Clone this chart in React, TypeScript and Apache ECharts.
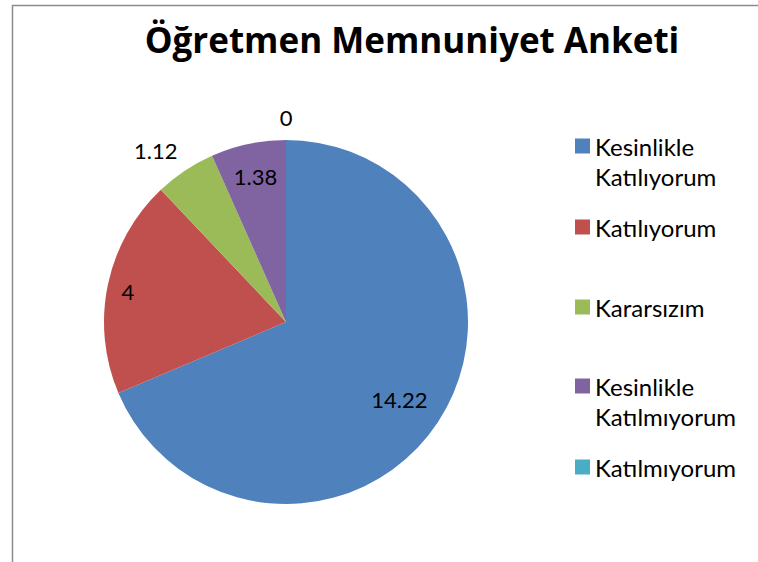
import React, { useEffect, useRef } from "react";
import * as echarts from "echarts";

const categories = [
  "Kesinlikle Katılıyorum",
  "Katılıyorum",
  "Kararsızım",
  "Kesinlikle Katılmıyorum",
  "Katılmıyorum",
];
const values = [14.22, 4, 1.12, 1.38, 0];
const colors = ["#4F81BD", "#C0504D", "#9BBB59", "#8064A2", "#4BACC6"];
const titleText = "Öğretmen Memnuniyet Anketi";

// label offsets (px) from the pie's default inside label position
const labelOffsets: [number, number][] = [
  [35, 26],
  [-66, -11],
  [-78, -93],
  [-11, -54],
  [0, -111],
];
// vertical centre of each legend key (px)
const legendKeyY = [146, 227, 307, 386, 467];

const FONT = "Lato";
const LINE = 30;

export default function App() {
  const ref = useRef<HTMLDivElement>(null);
  useEffect(() => {
    if (!ref.current) return;
    const chart = echarts.init(ref.current, null, { renderer: "svg" });
    const legends = categories.map((name, i) => {
      const twoLine = name.startsWith("Kesinlikle ");
      return {
        orient: "vertical" as const,
        left: 575,
        top: twoLine ? legendKeyY[i] - LINE * 1.5 : legendKeyY[i] - LINE / 2,
        padding: 0,
        itemWidth: 15,
        itemHeight: 15,
        itemGap: 0,
        icon: "rect",
        selectedMode: false,
        itemStyle: { borderWidth: 0 },
        data: [name],
        formatter: (n: string) =>
          n.startsWith("Kesinlikle ")
            ? "\n" + n.replace("Kesinlikle ", "Kesinlikle\n")
            : n,
        textStyle: {
          fontFamily: FONT,
          fontSize: 24,
          lineHeight: LINE,
          color: "#000",
        },
      };
    });
    chart.setOption({
      animation: false,
      backgroundColor: "#fff",
      color: colors,
      title: {
        text: titleText,
        left: 412,
        textAlign: "center",
        top: 22,
        padding: 0,
        textStyle: {
          fontFamily: "Open Sans",
          fontWeight: "bold",
          fontSize: 35,
          color: "#000",
        },
      },
      graphic: [
        {
          type: "rect",
          left: 10,
          top: 3,
          shape: { width: 900, height: 700 },
          style: { fill: "none", stroke: "#8c8c8c", lineWidth: 1.5 },
          silent: true,
        },
      ],
      legend: legends,
      series: [
        {
          type: "pie",
          center: [286, 322],
          radius: 182,
          startAngle: 90,
          clockwise: true,
          avoidLabelOverlap: false,
          minShowLabelAngle: 0,
          label: {
            show: true,
            position: "inside",
            formatter: "{c}",
            fontFamily: FONT,
            fontSize: 22,
            color: "#000",
          },
          labelLine: { show: false },
          itemStyle: { borderWidth: 0 },
          emphasis: { disabled: true },
          labelLayout: (p: any) => ({
            dx: labelOffsets[p.dataIndex][0],
            dy: labelOffsets[p.dataIndex][1],
          }),
          data: categories.map((name, i) => ({ name, value: values[i] })),
        },
      ],
    });
    return () => chart.dispose();
  }, []);
  return (
    <div
      ref={ref}
      style={{ position: "fixed", left: 0, top: 0, width: 758, height: 562 }}
    />
  );
}
